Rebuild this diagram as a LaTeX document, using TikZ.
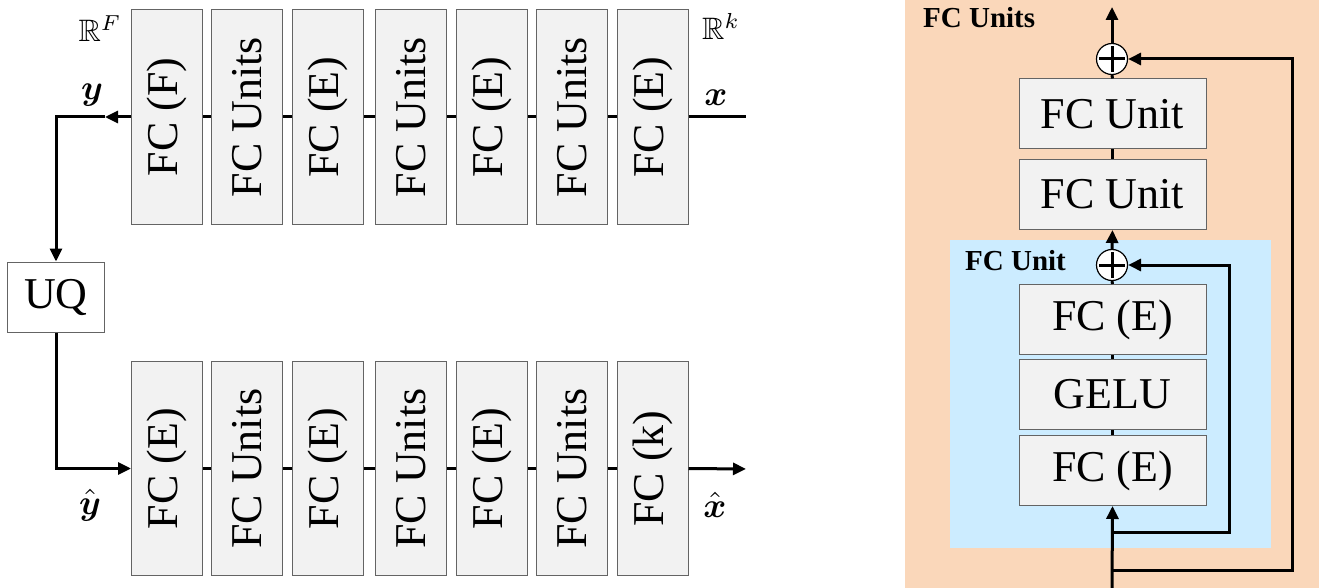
\documentclass[tikz,border=0pt]{standalone}
\usepackage{amsmath,amssymb}
\usepackage{fontspec}
\setmainfont{Liberation Serif}
\usetikzlibrary{arrows.meta}
\definecolor{peach}{RGB}{250,215,186}
\definecolor{skyb}{RGB}{204,236,255}
\definecolor{boxfill}{RGB}{242,242,242}
\definecolor{boxline}{RGB}{100,100,100}
\begin{document}
\begin{tikzpicture}[x=1pt,y=-1pt,
  blk/.style={draw=boxline,fill=boxfill,line width=1pt,minimum width=71pt,minimum height=214pt,inner sep=0pt,
    font=\fontsize{44}{48}\selectfont},
  rblk/.style={draw=boxline,fill=boxfill,line width=1pt,minimum width=187pt,minimum height=70pt,inner sep=0pt,
    font=\fontsize{44}{48}\selectfont},
  conn/.style={line width=3pt,black},
  arr/.style={-{Triangle[length=13pt,width=12pt]}},
  mlab/.style={font=\normalsize,scale=3.1,inner sep=0pt,anchor=base},
  vlab/.style={font=\normalsize,scale=3.5,inner sep=0pt,anchor=base},
  blab/.style={font=\fontsize{29}{32}\selectfont\bfseries,inner sep=0pt},
  plus/.style={circle,draw=black,fill=white,line width=1.2pt,minimum size=31pt,inner sep=0pt}]
\useasboundingbox (0,0) rectangle (1319,588);
% right panel backgrounds
\fill[peach] (905,0) rectangle (1319,588);
\fill[skyb] (950,240) rectangle (1271,548);
% top row
\foreach \n/\x/\t in {t1/167/FC (F),t2/247/FC Units,t3/328/FC (E),t4/411/FC Units,t5/492/FC (E),t6/572/FC Units,t7/652.5/FC (E)}{
  \node[blk] (\n) at (\x,117) {\rotatebox{90}{\t}};
}
\foreach \n/\x/\t in {b1/167/FC (E),b2/247/FC Units,b3/328/FC (E),b4/411/FC Units,b5/492/FC (E),b6/572/FC Units,b7/652.5/FC (k)}{
  \node[blk] (\n) at (\x,468.5) {\rotatebox{90}{\t}};
}
\foreach \a/\b in {t1/t2,t2/t3,t3/t4,t4/t5,t5/t6,t6/t7,b1/b2,b2/b3,b3/b4,b4/b5,b5/b6,b6/b7}{
  \draw[conn] (\a.east) -- (\b.west);
}
\node[draw=boxline,fill=white,line width=1pt,minimum width=97pt,minimum height=70pt,inner sep=0pt,
  font=\fontsize{44}{48}\selectfont] (uq) at (56,297) {UQ};
\coordinate (xin) at (746,117);
\coordinate (ya) at (105,117);
\coordinate (xout) at (746,469);
\draw[conn] (t7.east) -- (xin);
\draw[conn,arr] (t1.west) -- (ya);
\draw[conn,arr] (ya) -| (uq.north);
\draw[conn,arr] (uq.south) |- (b1.west);
\draw[conn,arr] (b7.east) -- (xout);
% labels left
\node[mlab] (rf) at (100,42) {$\mathbb{R}^{F}$};
\node[mlab] (rk) at (721,40) {$\mathbb{R}^{k}$};
\node[vlab] (ly) at (92,100) {$\boldsymbol{y}$};
\node[vlab] (lx) at (716,106) {$\boldsymbol{x}$};
\node[vlab] (lyh) at (90,514) {$\hat{\boldsymbol{y}}$};
\node[vlab] (lxh) at (715,517) {$\hat{\boldsymbol{x}}$};
% right panel
\node[blab,anchor=west] (lunits) at (923,18) {FC Units};
\node[blab,anchor=west] (lunit) at (965,261) {FC Unit};
\node[rblk] (u1) at (1112.5,114) {FC Unit};
\node[rblk] (u2) at (1112.5,194.5) {FC Unit};
\node[rblk] (f1) at (1112.5,319.5) {FC (E)};
\node[rblk] (g) at (1112.5,394) {GELU};
\node[rblk] (f2) at (1112.5,470.5) {FC (E)};
\node[plus] (po) at (1112,59) {};
\node[plus] (pi) at (1112,265) {};
\foreach \p in {po,pi}{
  \draw[line width=3pt] ([yshift=-13pt]\p.center) -- ([yshift=13pt]\p.center);
  \draw[line width=3pt] ([xshift=-13pt]\p.center) -- ([xshift=13pt]\p.center);
}
\coordinate (in) at (1112,590);
\coordinate (s1) at (1112,570);
\coordinate (s2) at (1112,532);
\coordinate (out) at (1112,7);
\draw[conn,arr] (in) -- (f2.south);
\draw[conn] (f2.north) -- (g.south);
\draw[conn] (g.north) -- (f1.south);
\draw[conn] (f1.north) -- (pi.south);
\draw[conn,arr] (pi.north) -- (u2.south);
\draw[conn] (u2.north) -- (u1.south);
\draw[conn] (u1.north) -- (po.south);
\draw[conn,arr] (po.north) -- (out);
\draw[conn,arr] (s2) -- (1229,532) -- (1229,265) -- (pi.east);
\draw[conn,arr] (s1) -- (1292,570) -- (1292,59) -- (po.east);
\end{tikzpicture}
\end{document}
